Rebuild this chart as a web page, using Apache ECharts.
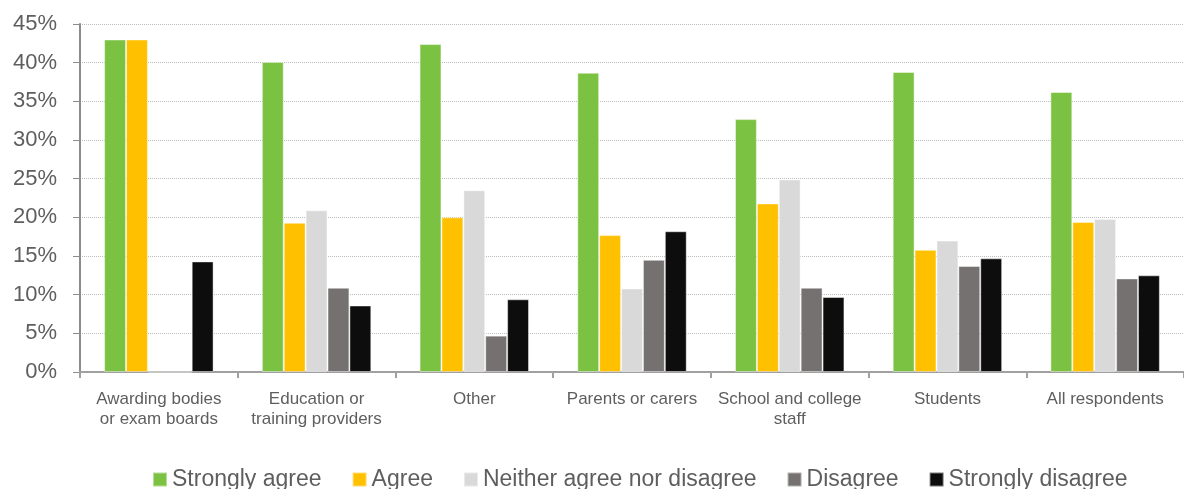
<!DOCTYPE html>
<html>
<head>
<meta charset="utf-8">
<style>
  html, body { margin: 0; padding: 0; background: #ffffff; }
  #chart { width: 1184px; height: 489px; }
</style>
<script src="https://cdn.jsdelivr.net/npm/echarts@6/dist/echarts.min.js"></script>
</head>
<body>
<div id="chart"></div>
<script>
// Respondent groups along the x axis
const categories = [
  'Awarding bodies\nor exam boards',
  'Education or\ntraining providers',
  'Other',
  'Parents or carers',
  'School and college\nstaff',
  'Students',
  'All respondents'
];

// Share of each group giving each response (%)
const stronglyAgree    = [43.0, 40.1, 42.4, 38.7, 32.7, 38.8, 36.2];
const agree            = [43.0, 19.3, 20.0, 17.7, 21.8, 15.8, 19.4];
const neither          = [0,    20.9, 23.5, 10.8, 24.9, 17.0, 19.8];
const disagree         = [0,    10.9,  4.7, 14.5, 10.9, 13.7, 12.1];
const stronglyDisagree = [14.3,  8.6,  9.4, 18.2,  9.7, 14.7, 12.5];

// Y axis ticks (%)
const yMin = 0, yMax = 45, yStep = 5;

const seriesDefs = [
  { name: 'Strongly agree', data: stronglyAgree, color: '#7CC242' },
  { name: 'Agree', data: agree, color: '#FFC000' },
  { name: 'Neither agree nor disagree', data: neither, color: '#D9D9D9' },
  { name: 'Disagree', data: disagree, color: '#767171' },
  { name: 'Strongly disagree', data: stronglyDisagree, color: '#0D0D0D' }
];

const textGrey = '#5E5E5E';
const font = '"Liberation Sans", Arial, sans-serif';

const chart = echarts.init(document.getElementById('chart'), null, { renderer: 'canvas' });

chart.setOption({
  animation: false,
  backgroundColor: '#ffffff',
  textStyle: { fontFamily: font },
  grid: { left: 80, top: 24, width: 1107, bottom: 117, containLabel: false },
  legend: {
    left: 152,
    top: 467,
    padding: 0,
    itemWidth: 14,
    itemHeight: 14,
    itemGap: 30,
    icon: 'rect',
    textStyle: { color: textGrey, fontSize: 23, lineHeight: 25, fontFamily: font },
    data: seriesDefs.map(s => s.name)
  },
  xAxis: {
    type: 'category',
    data: categories,
    axisLine: { show: true, lineStyle: { color: '#A0A0A0', width: 2 } },
    axisTick: { show: true, length: 6, lineStyle: { color: '#A0A0A0', width: 2 } },
    axisLabel: {
      color: textGrey,
      fontSize: 17,
      lineHeight: 20,
      margin: 17,
      interval: 0,
      fontFamily: font
    }
  },
  yAxis: {
    type: 'value',
    min: yMin,
    max: yMax,
    interval: yStep,
    axisLine: { show: true, lineStyle: { color: '#8C8C8C', width: 2 } },
    axisTick: { show: true, length: 7, lineStyle: { color: '#8C8C8C', width: 1 } },
    axisLabel: {
      formatter: '{value}%',
      color: textGrey,
      fontSize: 22,
      margin: 23,
      fontFamily: font
    },
    splitLine: { show: true, lineStyle: { color: '#BDBDBD', type: 'dotted', width: 1 } }
  },
  series: seriesDefs.map(s => ({
    name: s.name,
    type: 'bar',
    data: s.data,
    barGap: '0%',
    barCategoryGap: '30.6%',
    itemStyle: {
      color: s.color,
      borderColor: 'rgba(255,255,255,0.45)',
      borderWidth: 1
    }
  }))
});
</script>
</body>
</html>
